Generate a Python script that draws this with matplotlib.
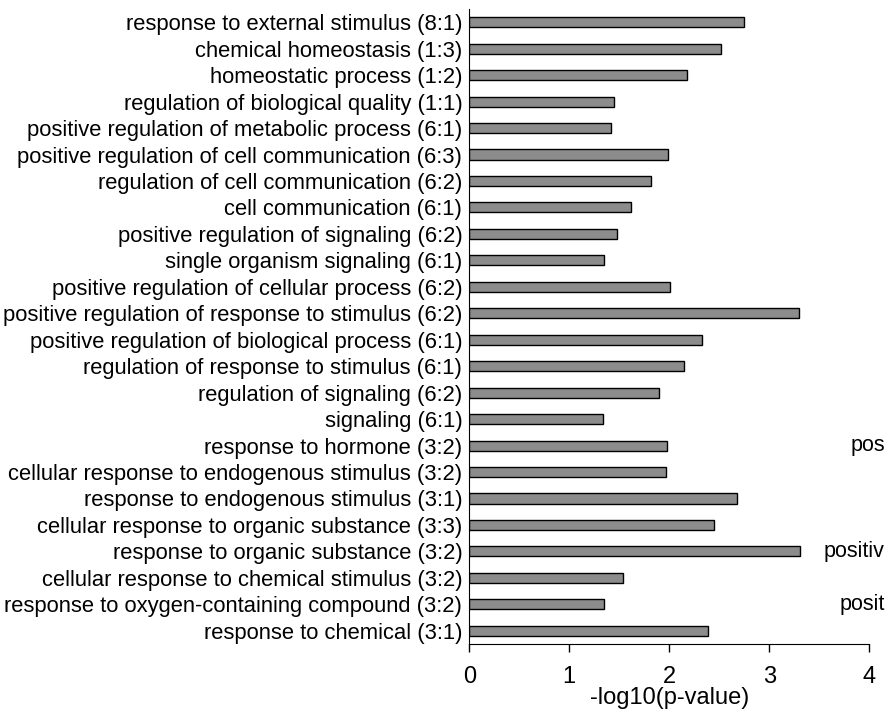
import matplotlib
matplotlib.use("Agg")
import matplotlib.pyplot as plt
import numpy as np

plt.rcParams['font.family'] = ['Liberation Sans', 'DejaVu Sans']

terms = [
    "response to external stimulus (8:1)",
    "chemical homeostasis (1:3)",
    "homeostatic process (1:2)",
    "regulation of biological quality (1:1)",
    "positive regulation of metabolic process (6:1)",
    "positive regulation of cell communication (6:3)",
    "regulation of cell communication (6:2)",
    "cell communication (6:1)",
    "positive regulation of signaling (6:2)",
    "single organism signaling (6:1)",
    "positive regulation of cellular process (6:2)",
    "positive regulation of response to stimulus (6:2)",
    "positive regulation of biological process (6:1)",
    "regulation of response to stimulus (6:1)",
    "regulation of signaling (6:2)",
    "signaling (6:1)",
    "response to hormone (3:2)",
    "cellular response to endogenous stimulus (3:2)",
    "response to endogenous stimulus (3:1)",
    "cellular response to organic substance (3:3)",
    "response to organic substance (3:2)",
    "cellular response to chemical stimulus (3:2)",
    "response to oxygen-containing compound (3:2)",
    "response to chemical (3:1)",
]
neg_log_p = [2.75, 2.52, 2.18, 1.45, 1.42, 1.99, 1.82, 1.62, 1.48, 1.35,
             2.01, 3.30, 2.33, 2.15, 1.90, 1.34, 1.98, 1.97, 2.68, 2.45,
             3.31, 1.54, 1.35, 2.39]
xticks = [0, 1, 2, 3, 4]

# fragments of a neighbouring panel, cut off at the right edge
cut_labels = ["pos", "positiv", "posit"]
cut_rows = [16, 20, 22]
cut_x = [851, 824, 840]

fig = plt.figure(figsize=(8.85, 7.14), dpi=100)
ax = fig.add_axes([469.3 / 885, 1 - 644 / 714, 400 / 885, (644 - 9) / 714])

y = np.arange(len(terms))
ax.barh(y, neg_log_p, height=0.38, color='#8c8c8c', edgecolor='black', linewidth=1.0)

ax.set_ylim(len(terms) - 0.5, -0.5)
ax.set_xlim(0, 4)
ax.set_yticks(y)
ax.set_yticklabels(terms, fontsize=15.8)
ax.set_xticks(xticks)
ax.set_xticklabels([str(t) for t in xticks], fontsize=17)
ax.tick_params(axis='y', length=0, pad=5)
ax.tick_params(axis='x', direction='out', length=6, width=1, pad=10)
ax.spines['top'].set_visible(False)
ax.spines['right'].set_visible(False)
ax.set_xlabel("-log10(p-value)", fontsize=17, labelpad=-1)

for lab, row, xp in zip(cut_labels, cut_rows, cut_x):
    yp = ax.transData.transform((0, row))[1]
    fig.text(xp / 885, yp / 714, lab, fontsize=15.5, va='center', ha='left')

fig.savefig("out.png", dpi=100)
